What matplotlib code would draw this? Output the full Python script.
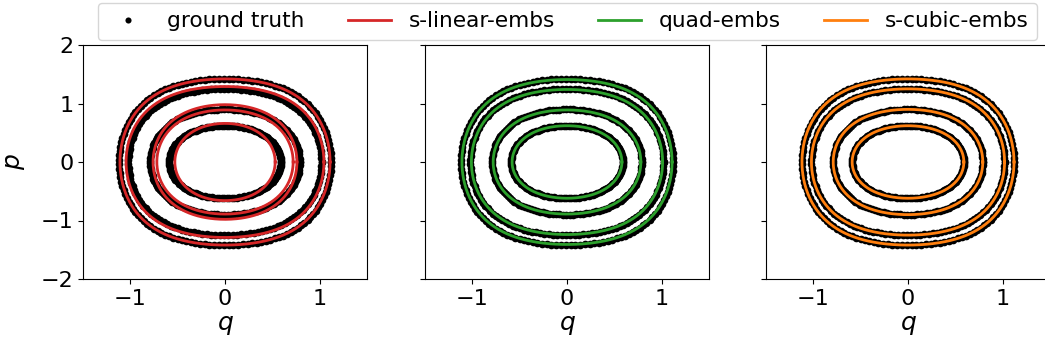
import numpy as np
import matplotlib
matplotlib.use("Agg")
import matplotlib.pyplot as plt

# ---- data: orbit amplitudes (q at p=0, p at q=0) ----
truth_qa = [0.59, 0.79, 1.02, 1.12]
truth_pa = [0.62, 0.90, 1.25, 1.42]

linear_qa = [0.53, 0.72, 0.76, 1.045, 1.11]
linear_pa = [0.66, 0.89, 0.98, 1.29, 1.42]

quad_qa = [0.58, 0.78, 1.01, 1.11]
quad_pa = [0.62, 0.89, 1.24, 1.41]

cubic_qa = [0.59, 0.79, 1.02, 1.12]
cubic_pa = [0.62, 0.90, 1.25, 1.42]

series_names = ["s-linear-embs", "quad-embs", "s-cubic-embs"]
series_colors = ["#d62728", "#2ca02c", "#ff7f0e"]
series_qa = [linear_qa, quad_qa, cubic_qa]
series_pa = [linear_pa, quad_pa, cubic_pa]

x_ticks = [-1, 0, 1]
y_ticks = [-2, -1, 0, 1, 2]


def orbit(qa, pa, n):
    """Closed level curve of H = p^2/2 + q^2/2 + q^4/4 through (qa, 0), scaled to pa."""
    th = np.linspace(0, 2 * np.pi, n)
    q = qa * np.cos(th)
    V = q ** 2 / 2 + q ** 4 / 4
    E = qa ** 2 / 2 + qa ** 4 / 4
    p = np.sign(np.sin(th)) * np.sqrt(np.clip(2 * (E - V), 0, None)) * pa / np.sqrt(2 * E)
    return q, p


fig = plt.figure(figsize=(10.45, 3.52), dpi=100)
W, H = 1045, 352
lefts = [83, 425, 766]
aw, top, bot = 284, 45, 279
axes = []
for i, l in enumerate(lefts):
    ax = fig.add_axes([l / W, 1 - bot / H, aw / W, (bot - top) / H])
    axes.append(ax)

handles = []
for i, ax in enumerate(axes):
    for qa, pa in zip(truth_qa, truth_pa):
        q, p = orbit(qa, pa, 140)
        h_gt, = ax.plot(q, p, 'o', color='black', ms=5.5, mew=0, zorder=2, label='ground truth')
    for qa, pa in zip(series_qa[i], series_pa[i]):
        q, p = orbit(qa, pa, 500)
        h_ln, = ax.plot(q, p, '-', color=series_colors[i], lw=2, zorder=3, label=series_names[i])
    if i == 0:
        handles.append(h_gt)
    handles.append(h_ln)
    ax.set_xlim(-1.5, 1.5)
    ax.set_ylim(-2, 2)
    ax.set_xticks(x_ticks)
    ax.set_yticks(y_ticks)
    ax.tick_params(labelsize=16)
    ax.set_xlabel('$q$', fontsize=18, labelpad=3)
    if i == 0:
        ax.set_ylabel('$p$', fontsize=18, labelpad=10)
    else:
        ax.set_yticklabels([])

leg = fig.legend(handles, ['ground truth'] + series_names, loc='center',
                 bbox_to_anchor=(0.543, 0.939), ncol=4, fontsize=15.6,
                 markerscale=0.8, borderaxespad=0)
fig.savefig('out.png', dpi=100)
